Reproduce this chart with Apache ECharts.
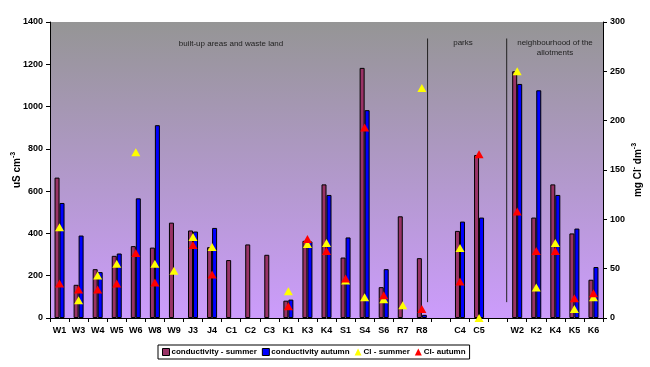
<!DOCTYPE html>
<html>
<head>
<meta charset="utf-8">
<script src="https://cdn.jsdelivr.net/npm/echarts@6/dist/echarts.min.js"></script>
<style>html,body{margin:0;padding:0;background:#fff}#c{width:650px;height:367px}</style>
</head>
<body>
<div id="c"></div>
<script>
var categories = ['W1','W3','W4','W5','W6','W8','W9','J3','J4','C1','C2','C3','K1','K3','K4','S1','S4','S6','R7','R8','','C4','C5','','W2','K2','K4','K5','K6'];
var condSummer = [664,157,231,294,340,333,451,414,335,274,348,299,82,365,632,286,1183,146,481,283,null,412,771,null,1167,475,632,400,181];
var condAutumn = [544,390,217,305,566,912,null,409,426,null,null,null,87,362,582,381,983,231,null,15,null,456,475,null,1107,1077,582,423,241];
var clSummer = [92,18,43,55,168,55,48,82,72,null,null,null,27,75,76,38,21,19,13,233,null,71,0,null,250,31,76,9,21];
var clAutumn = [35,29,29,35,66,36,null,74,44,null,null,null,12,80,68,40,193,23,null,9,null,37,166,null,108,68,68,20,25];
var leftTicks = {min:0, max:1400, interval:200};
var rightTicks = {min:0, max:300, interval:50};
// separator lines: position on a 0..29 category span, vertical extent in uS cm-3
var separatorX = [19.8, 23.95];
var separatorY = [75, 1322];

var FONT = '"Liberation Sans", Arial, sans-serif';
var chart = echarts.init(document.getElementById('c'), null, {renderer:'canvas'});
var sepSeries = separatorX.map(function(x){
  return {
    type:'line', xAxisIndex:1, yAxisIndex:0, symbol:'none', silent:true,
    lineStyle:{color:'#222', width:1}, z:1,
    data:[[x, separatorY[0]],[x, separatorY[1]]]
  };
});
function plain(v){ return String(v); }
var option = {
  animation:false,
  textStyle:{fontFamily:FONT},
  grid:{left:50, right:47, top:22, bottom:49, show:true, borderWidth:0, containLabel:false, outerBoundsMode:'none',
    backgroundColor:{type:'linear', x:0, y:0, x2:0, y2:1,
      colorStops:[{offset:0,color:'#959595'},{offset:1,color:'#cc9cfc'}]}},
  legend:{
    left:158, top:345, itemGap:5, itemWidth:7, itemHeight:7,
    borderColor:'#000', borderWidth:1, padding:[3,4,3,4],
    textStyle:{fontFamily:FONT, fontWeight:'bold', fontSize:8, color:'#000', padding:[0,0,0,-3]},
    data:[
      {name:'conductivity - summer', icon:'rect', itemStyle:{borderColor:'#000', borderWidth:1}},
      {name:'conductivity autumn', icon:'rect', itemStyle:{borderColor:'#000', borderWidth:1}},
      {name:'Cl - summer', icon:'triangle'},
      {name:'Cl- autumn', icon:'triangle'}
    ]
  },
  xAxis:[{
    type:'category', data:categories,
    axisLine:{lineStyle:{color:'#000', width:1}},
    axisTick:{show:true, length:4, lineStyle:{color:'#000'}},
    axisLabel:{fontFamily:FONT, fontWeight:'bold', fontSize:9, color:'#000', margin:8, interval:0}
  },{
    type:'value', min:0, max:29, show:false
  }],
  yAxis:[{
    type:'value', min:leftTicks.min, max:leftTicks.max, interval:leftTicks.interval,
    name:'uS cm{sup|-3}', nameLocation:'middle', nameGap:26, nameRotate:90, nameMoveOverlap:false,
    nameTextStyle:{fontFamily:FONT, fontWeight:'bold', fontSize:10, color:'#000', lineHeight:14,
      rich:{sup:{fontFamily:FONT, fontWeight:'bold', fontSize:7, color:'#000', lineHeight:8, verticalAlign:'top'}}},
    splitLine:{show:false},
    axisLine:{show:true, lineStyle:{color:'#000'}},
    axisTick:{show:true, length:4, lineStyle:{color:'#000'}},
    axisLabel:{fontFamily:FONT, fontWeight:'bold', fontSize:9, color:'#000', margin:7, formatter:plain}
  },{
    type:'value', min:rightTicks.min, max:rightTicks.max, interval:rightTicks.interval, position:'right',
    name:'mg Cl{sup|-} dm{sup|-3}', nameLocation:'middle', nameGap:28, nameRotate:90, nameMoveOverlap:false,
    nameTextStyle:{fontFamily:FONT, fontWeight:'bold', fontSize:10, color:'#000', lineHeight:14,
      rich:{sup:{fontFamily:FONT, fontWeight:'bold', fontSize:7, color:'#000', lineHeight:8, verticalAlign:'top'}}},
    splitLine:{show:false},
    axisLine:{show:true, lineStyle:{color:'#000'}},
    axisTick:{show:true, length:4, lineStyle:{color:'#000'}},
    axisLabel:{fontFamily:FONT, fontWeight:'bold', fontSize:9, color:'#000', margin:7, formatter:plain}
  }],
  graphic:[
    {type:'text', x:231, y:44, style:{text:'built-up areas and waste land', font:'8px '+FONT, fill:'#222', align:'center', verticalAlign:'middle'}},
    {type:'text', x:463, y:43, style:{text:'parks', font:'8px '+FONT, fill:'#222', align:'center', verticalAlign:'middle'}},
    {type:'text', x:555, y:48, style:{text:'neighbourhood of the\nallotments', font:'8px '+FONT, fill:'#222', align:'center', verticalAlign:'middle', lineHeight:10}}
  ],
  series:[
    {name:'conductivity - summer', type:'bar', yAxisIndex:0, data:condSummer, barWidth:5, barGap:'0%',
      itemStyle:{color:'#993366', borderColor:'#000', borderWidth:1}, z:2},
    {name:'conductivity autumn', type:'bar', yAxisIndex:0, data:condAutumn, barWidth:5, barGap:'0%',
      itemStyle:{color:'#0000ff', borderColor:'#000', borderWidth:1}, z:2},
    {name:'Cl - summer', type:'scatter', yAxisIndex:1, data:clSummer, symbol:'triangle', symbolSize:[9,8],
      itemStyle:{color:'#ffff00', opacity:1}, z:4},
    {name:'Cl- autumn', type:'scatter', yAxisIndex:1, data:clAutumn, symbol:'triangle', symbolSize:[9,8],
      itemStyle:{color:'#ff0000', opacity:1}, z:5}
  ].concat(sepSeries)
};
chart.setOption(option);
</script>
</body>
</html>
